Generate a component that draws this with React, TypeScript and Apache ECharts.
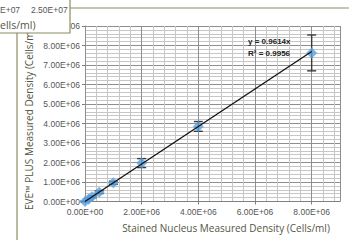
import React, { useEffect, useRef } from "react";
import * as echarts from "echarts";

// Stained nucleus measured density (x) vs EVE PLUS measured density (y), cells/ml
const xValues = [0, 125000, 250000, 500000, 1000000, 2000000, 4000000, 8000000];
const yValues = [0, 120000, 240000, 480000, 960000, 1970000, 3850000, 7620000];
const yErrors = [20000, 40000, 50000, 70000, 80000, 230000, 250000, 920000];
// linear trendline through origin
const trendX = [0, 8000000];
const trendY = [0, 7691200];
const trendLabel = ["y = 0.9614x", "R² = 0.9956"];
const xAxisTitle = "Stained Nucleus Measured Density (Cells/ml)";
const yAxisTitle = "EVE™ PLUS Measured Density (Cells/ml)";
// texts from the neighbouring chart overlapping the top-left corner
const otherChartTicks = ["E+07", "2.50E+07"];
const otherChartTitle = "ells/ml)";

const sci = (v: number) => {
  const [m, e] = v.toExponential(2).split("e");
  const n = parseInt(e, 10);
  return m + "E" + (n < 0 ? "-" : "+") + String(Math.abs(n)).padStart(2, "0");
};

export default function App() {
  const ref = useRef<HTMLDivElement>(null);
  useEffect(() => {
    const chart = echarts.init(ref.current!, null, { renderer: "svg" });
    const olive = "#8c8d62";
    const titleColor = "#55553f";
    const labelFont = { color: "#555555", fontSize: 8.5, fontFamily: "Liberation Sans" };
    chart.setOption({
      animation: false,
      backgroundColor: "#ffffff",
      grid: { left: 85, top: 26, right: 9, bottom: 38.5 },
      xAxis: [
        {
          type: "value",
          min: 0,
          max: 9000000,
          interval: 2000000,
          axisLine: { show: true, lineStyle: { color: "#808080", width: 1 } },
          axisTick: { show: true, inside: false, length: 3, lineStyle: { color: "#808080" } },
          axisLabel: {
            formatter: (v: number) => sci(v),
            showMaxLabel: false,
            margin: 6,
            ...labelFont,
          },
          splitLine: { show: true, lineStyle: { color: "#8e8e8e", width: 1 } },
          z: 3,
        },
        {
          type: "value",
          min: 0,
          max: 9000000,
          interval: 400000,
          axisLine: { show: false },
          axisTick: { show: false },
          axisLabel: { show: false },
          splitLine: { show: true, lineStyle: { color: "#c6c6c6", width: 1 } },
          z: 1,
        },
      ],
      yAxis: {
        type: "value",
        min: 0,
        max: 9000000,
        interval: 1000000,
        axisLine: { show: true, lineStyle: { color: "#808080", width: 1 } },
        axisTick: { show: true, inside: false, length: 3, lineStyle: { color: "#808080" } },
        axisLabel: {
          formatter: (v: number) => sci(v),
          margin: 5,
          ...labelFont,
        },
        splitLine: { show: true, lineStyle: { color: "#8e8e8e", width: 1 } },
        minorTick: { show: false, splitNumber: 5 },
        minorSplitLine: { show: true, lineStyle: { color: "#c6c6c6", width: 1 } },
      },
      series: [
        {
          type: "custom",
          xAxisIndex: 0,
          z: 4,
          data: xValues.map((x, i) => [x, yValues[i], yErrors[i]]),
          renderItem: (params: any, api: any) => {
            const x = api.value(0);
            const y = api.value(1);
            const e = api.value(2);
            const top = api.coord([x, y + e]);
            const bot = api.coord([x, y - e]);
            const hw = 4.5;
            const st = { stroke: "#3a3a3a", lineWidth: 1.4 };
            return {
              type: "group",
              children: [
                { type: "line", shape: { x1: top[0], y1: top[1], x2: bot[0], y2: bot[1] }, style: st },
                { type: "line", shape: { x1: top[0] - hw, y1: top[1], x2: top[0] + hw, y2: top[1] }, style: st },
                { type: "line", shape: { x1: bot[0] - hw, y1: bot[1], x2: bot[0] + hw, y2: bot[1] }, style: st },
              ],
            };
          },
        },
        {
          type: "scatter",
          xAxisIndex: 0,
          z: 5,
          symbol: "diamond",
          symbolSize: 11,
          itemStyle: { color: "#5aa2e0" },
          data: xValues.map((x, i) => [x, yValues[i]]),
        },
        {
          type: "line",
          xAxisIndex: 0,
          z: 6,
          symbol: "none",
          lineStyle: { color: "#111111", width: 1.3 },
          data: trendX.map((x, i) => [x, trendY[i]]),
        },
      ],
      graphic: [
        { type: "line", shape: { x1: 70, y1: 8, x2: 349, y2: 8 }, style: { stroke: olive, lineWidth: 1.2 }, z: 10 },
        { type: "line", shape: { x1: 17, y1: 33, x2: 17, y2: 240 }, style: { stroke: olive, lineWidth: 1.2 }, z: 10 },
        {
          type: "text",
          x: 248,
          y: 37,
          style: { text: trendLabel[0], fontSize: 8, fontWeight: "bold", fontFamily: "Liberation Sans", fill: "#222222" },
          z: 10,
        },
        {
          type: "text",
          x: 248,
          y: 49,
          style: { text: trendLabel[1], fontSize: 8, fontWeight: "bold", fontFamily: "Liberation Sans", fill: "#222222" },
          z: 10,
        },
        {
          type: "text",
          x: 226,
          y: 228,
          style: {
            text: xAxisTitle,
            fontSize: 10,
            fontFamily: "Open Sans",
            fill: titleColor,
            align: "center",
            verticalAlign: "middle",
          },
          z: 10,
        },
        {
          type: "text",
          x: 29,
          y: 118,
          rotation: Math.PI / 2,
          style: {
            text: yAxisTitle,
            fontSize: 10,
            fontFamily: "Open Sans",
            fill: titleColor,
            align: "center",
            verticalAlign: "middle",
          },
          z: 10,
        },
        {
          type: "rect",
          shape: { x: -2, y: -2, width: 72, height: 35 },
          style: { fill: "#ffffff", stroke: olive, lineWidth: 1.2 },
          z: 20,
        },
        {
          type: "text",
          x: 0,
          y: 10,
          style: { text: otherChartTicks[0], fontSize: 8.5, fontFamily: "Liberation Sans", fill: "#555555", verticalAlign: "middle" },
          z: 21,
        },
        {
          type: "text",
          x: 31,
          y: 10,
          style: { text: otherChartTicks[1], fontSize: 8.5, fontFamily: "Liberation Sans", fill: "#555555", verticalAlign: "middle" },
          z: 21,
        },
        {
          type: "text",
          x: 0,
          y: 25,
          style: { text: otherChartTitle, fontSize: 10.5, fontFamily: "Open Sans", fill: titleColor, verticalAlign: "middle" },
          z: 21,
        },
      ],
    });
    return () => chart.dispose();
  }, []);
  return (
    <div
      ref={ref}
      style={{ position: "absolute", left: 0, top: 0, width: 349, height: 240 }}
    />
  );
}
